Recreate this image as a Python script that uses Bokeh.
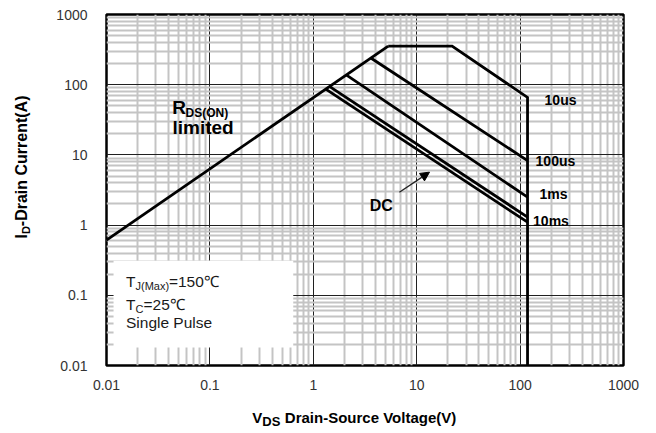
import math
from bokeh.plotting import figure
from bokeh.models import FixedTicker, Label, Arrow, NormalHead, Range1d
from bokeh.embed import file_html
from bokeh.resources import INLINE

# ---------------- data ----------------
x_ticks = [0.01, 0.1, 1, 10, 100, 1000]
x_tick_labels = ["0.01", "0.1", "1", "10", "100", "1000"]
y_ticks = [0.01, 0.1, 1, 10, 100, 1000]
y_tick_labels = ["0.01", "0.1", "1", "10", "100", "1000"]
minor_mantissas = [2, 3, 4, 5, 6, 7, 8, 9]

# RDS(on) limited line
rds_v = [0.01, 5.3]
rds_i = [0.61, 355]
# 10 us pulse boundary (plateau, power slope, VDS limit)
us10_v = [5.3, 22, 118, 118]
us10_i = [355, 355, 66, 0.01]
# 100 us
us100_v = [3.6, 118]
us100_i = [240, 8.3]
# 1 ms
ms1_v = [2.08, 118]
ms1_i = [138, 2.5]
# 10 ms
ms10_v = [1.43, 118]
ms10_i = [94.6, 1.3]
# DC
dc_v = [1.32, 118]
dc_i = [86.5, 1.1]

# DC arrow (tail -> head), data units
dc_arrow_v = [6.8, 13.3]
dc_arrow_i = [2.94, 5.68]

# white conditions box (data units)
box_v = [0.0117, 0.64]
box_i = [0.018, 0.31]

FONT = "Liberation Sans"

# frame geometry on the page (for placing texts)
FL, FT = 106, 14
XDEC, YDEC = 103.5, 70.2
BASE_SHIFT = 0.4  # em; compensates the renderer's baseline offset


def X(px):
    return 10 ** (-2 + (px - FL) / XDEC)


def Y(py):
    return 10 ** (3 - (py - FT) / YDEC)


p = figure(width=650, height=430, x_axis_type="log", y_axis_type="log",
           x_range=Range1d(0.01, 1000), y_range=Range1d(0.01, 1000),
           output_backend="svg", toolbar_location=None,
           min_border_left=106, min_border_right=27, min_border_top=14,
           min_border_bottom=65)
p.background_fill_color = "white"
p.border_fill_color = "white"
p.outline_line_color = "black"
p.outline_line_width = 2.5

minor_x = [m * t for t in x_ticks[:-1] for m in minor_mantissas]
minor_y = [m * t for t in y_ticks[:-1] for m in minor_mantissas]
xt = FixedTicker(ticks=x_ticks, minor_ticks=minor_x)
yt = FixedTicker(ticks=y_ticks, minor_ticks=minor_y)
p.xaxis.ticker = xt
p.yaxis.ticker = yt
p.xgrid.ticker = xt
p.ygrid.ticker = yt
p.xaxis.major_label_overrides = dict(zip(x_ticks, x_tick_labels))
p.yaxis.major_label_overrides = dict(zip(y_ticks, y_tick_labels))

for ax in (p.xaxis, p.yaxis):
    ax.axis_line_color = None
    ax.major_tick_line_color = None
    ax.minor_tick_line_color = None
    ax.major_label_text_font = FONT
    ax.major_label_text_font_size = "14px"
    ax.major_label_text_color = "#333333"
p.xaxis.major_label_standoff = 8
p.yaxis.major_label_standoff = 13

for g in (p.xgrid, p.ygrid):
    g.grid_line_color = "#202020"
    g.grid_line_width = 1
    g.minor_grid_line_color = "#c4c4c4"
    g.minor_grid_line_width = 2

# white box behind the test conditions
p.quad(left=[box_v[0]], right=[box_v[1]], bottom=[box_i[0]], top=[box_i[1]],
       fill_color="white", line_color=None)

LW = 2.8
for vs, is_ in [(rds_v, rds_i), (us10_v, us10_i), (us100_v, us100_i),
                (ms1_v, ms1_i), (ms10_v, ms10_i), (dc_v, dc_i)]:
    p.line(vs, is_, line_color="black", line_width=LW, line_join="miter")

p.add_layout(Arrow(end=NormalHead(size=9, fill_color="black", line_color="black"),
                   x_start=dc_arrow_v[0], y_start=dc_arrow_i[0],
                   x_end=dc_arrow_v[1], y_end=dc_arrow_i[1],
                   line_color="#222222", line_width=1.4))


def lab(text, px, py, size, bold=False, angle=0.0, color="black", place=None):
    fs = float(size.replace("px", ""))
    if angle == 0.0:
        py = py - BASE_SHIFT * fs
    else:
        px = px - BASE_SHIFT * fs
    l = Label(x=X(px), y=Y(py), text=text, text_font=FONT,
              text_font_size=size,
              text_font_style="bold" if bold else "normal",
              text_align="left", text_baseline="alphabetic",
              angle=angle, text_color=color)
    if place is None:
        p.add_layout(l)
    else:
        p.add_layout(l, place)


# curve labels
lab("10us", 544.5, 105, "14px", True)
lab("100us", 535.5, 166.5, "14px", True)
lab("1ms", 539.5, 199.5, "14px", True)
lab("10ms", 533, 226, "14px", True)
lab("DC", 369.5, 211.7, "16px", True)

# RDS(ON) limited
lab("R", 171.7, 115, "19px", True)
lab("DS(ON)", 185.2, 117.5, "12px", True)
lab("limited", 172, 135, "19px", True)

# test conditions
TC = "#1a1a1a"
lab("T", 125.5, 287, "15.5px", False, color=TC)
lab("J(Max)", 135, 289.5, "11px", False, color=TC)
lab("=150℃", 168.5, 287, "15.5px", False, color=TC)
lab("T", 125.5, 310, "15.5px", False, color=TC)
lab("C", 135, 312.5, "11px", False, color=TC)
lab("=25℃", 143, 310, "15.5px", False, color=TC)
lab("Single Pulse", 125.5, 328.5, "15.5px", False, color=TC)

# axis titles (in side panels, so they are not clipped to the frame;
# spread over panels that have spare room so the frame keeps its size)
lab("V", 252, 423, "15px", True, place="below")
lab("DS", 262, 425.7, "13px", True, place="right")
lab("Drain-Source Voltage(V)", 284.5, 423, "15px", True, place="below")

ROT = math.pi / 2
lab("I", 27, 238, "16px", True, ROT, place="left")
lab("D", 29.5, 233.6, "11px", True, ROT, place="left")
lab("-Drain Current(A)", 27, 225.7, "16px", True, ROT, place="left")

open("out.html", "w").write(file_html(p, INLINE))
